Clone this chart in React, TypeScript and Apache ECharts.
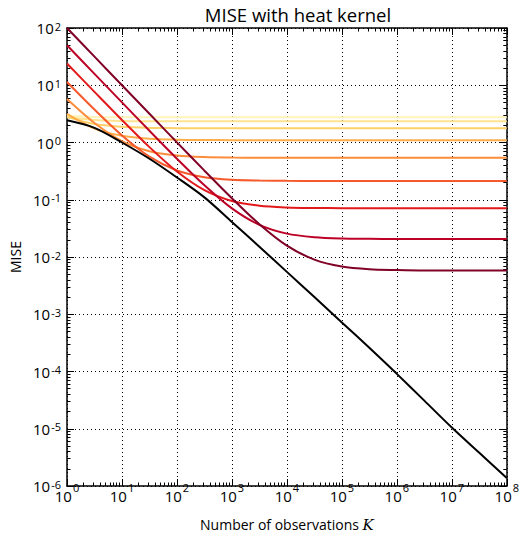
import React, { useEffect, useRef } from "react";
import * as echarts from "echarts";

// Number of observations K (half-decade steps)
const K = [1, 3.162, 10, 31.62, 100, 316.2, 1000, 3162, 1e4, 31620, 1e5, 316200, 1e6, 3162000, 1e7, 31620000, 1e8];

// MISE for fixed bandwidths (dark = smallest bandwidth)
const mise1 = [100, 31.6, 10.0, 3.17, 1.006, 0.322, 0.106, 0.0374, 0.0158, 0.009, 0.0068, 0.0061, 0.0059, 0.0058, 0.0058, 0.0058, 0.0058];
const mise2 = [50, 15.8, 5.02, 1.6, 0.521, 0.179, 0.0706, 0.0364, 0.0256, 0.0222, 0.0211, 0.0208, 0.0206, 0.0206, 0.0206, 0.0206, 0.0206];
const mise3 = [24, 7.66, 2.47, 0.83, 0.311, 0.147, 0.095, 0.0786, 0.0734, 0.0718, 0.0712, 0.071, 0.071, 0.071, 0.071, 0.071, 0.071];
const mise4 = [11.4, 3.76, 1.33, 0.567, 0.325, 0.248, 0.224, 0.217, 0.214, 0.213, 0.213, 0.213, 0.213, 0.213, 0.213, 0.213, 0.213];
const mise5 = [5.75, 2.19, 1.06, 0.705, 0.592, 0.556, 0.545, 0.542, 0.54, 0.54, 0.54, 0.54, 0.54, 0.54, 0.54, 0.54, 0.54];
const mise6 = [3.15, 1.75, 1.31, 1.165, 1.12, 1.106, 1.1, 1.1, 1.1, 1.1, 1.1, 1.1, 1.1, 1.1, 1.1, 1.1, 1.1];
const mise7 = [2.8, 2.1, 1.88, 1.8, 1.78, 1.77, 1.77, 1.77, 1.77, 1.77, 1.77, 1.77, 1.77, 1.77, 1.77, 1.77, 1.77];
const mise8 = [2.75, 2.47, 2.38, 2.35, 2.34, 2.34, 2.34, 2.34, 2.34, 2.34, 2.34, 2.34, 2.34, 2.34, 2.34, 2.34, 2.34];
const mise9 = [2.9, 2.8, 2.77, 2.76, 2.76, 2.76, 2.76, 2.76, 2.76, 2.76, 2.76, 2.76, 2.76, 2.76, 2.76, 2.76, 2.76];
// optimal bandwidth
const miseOpt = [2.44, 1.8, 1.0, 0.52, 0.245, 0.11, 0.041, 0.0151, 0.0055, 0.002, 0.00072, 0.00026, 0.000091, 0.000031, 0.0000105, 0.0000038, 0.00000138];

const curves = [mise9, mise8, mise7, mise6, mise5, mise4, mise3, mise2, mise1];
const colors = ["#fff3b8", "#fee391", "#fed06a", "#fdae4b", "#fd8d3c", "#f65a2c", "#e31a1c", "#bd0026", "#800026"];

const X_MIN = 1, X_MAX = 1e8, Y_MIN = 1e-6, Y_MAX = 1e2;

function minorTicks(lo: number, hi: number): number[] {
  const out: number[] = [];
  for (let d = Math.round(Math.log10(lo)); d < Math.round(Math.log10(hi)); d++) {
    for (let m = 2; m <= 9; m++) out.push(m * Math.pow(10, d));
  }
  return out;
}

const FONT = "Open Sans";

const supFormatter = (v: number) => {
  const e = Math.round(Math.log10(v));
  return `{b|10}{s|${e}}`;
};
const richX = {
  b: { fontSize: 15, lineHeight: 27, fontFamily: FONT, color: "#000", verticalAlign: "bottom" as const },
  s: { fontSize: 11, lineHeight: 11, fontFamily: FONT, color: "#000", verticalAlign: "top" as const, padding: [6, 0, 0, 1] },
};
const richY = {
  b: { fontSize: 15, lineHeight: 15, fontFamily: FONT, color: "#000", verticalAlign: "middle" as const, padding: [6, 0, 6, 0] },
  s: { fontSize: 11, lineHeight: 11, fontFamily: FONT, color: "#000", verticalAlign: "top" as const, padding: [0, 0, 0, 1] },
};

export default function App() {
  const ref = useRef<HTMLDivElement>(null);
  useEffect(() => {
    if (!ref.current) return;
    const chart = echarts.init(ref.current, null, { renderer: "svg" });
    const mx = minorTicks(X_MIN, X_MAX);
    const my = minorTicks(Y_MIN, Y_MAX);
    const baseLog = { type: "log" as const, logBase: 10, interval: 1 };
    const hidden = { axisLabel: { show: false }, splitLine: { show: false } };
    const xAxes = [
      {
        ...baseLog, min: X_MIN, max: X_MAX, position: "bottom",
        name: "Number of observations {it|K}", nameLocation: "middle", nameGap: 31,
        nameTextStyle: {
          fontSize: 14, fontFamily: FONT, color: "#000",
          rich: { it: { fontSize: 15, fontFamily: "DejaVu Serif", fontStyle: "italic", color: "#000" } },
        },
        axisLine: { show: true, lineStyle: { color: "#000", width: 1.5 } },
        axisTick: { show: true, inside: true, length: 7, lineStyle: { color: "#000", width: 1 } },
        axisLabel: { formatter: supFormatter, rich: richX, margin: -10, showMinLabel: true, showMaxLabel: true },
        splitLine: { show: true, lineStyle: { color: "#000", type: [1, 3], width: 1 } },
      },
      {
        ...baseLog, min: X_MIN, max: X_MAX, position: "bottom", ...hidden,
        axisLine: { show: false },
        axisTick: { show: true, inside: true, length: 3.5, customValues: mx, lineStyle: { color: "#000" } },
      },
      {
        ...baseLog, min: X_MIN, max: X_MAX, position: "top", ...hidden,
        axisLine: { show: true, lineStyle: { color: "#000", width: 1.5 } },
        axisTick: { show: true, inside: true, length: 7, lineStyle: { color: "#000" } },
      },
      {
        ...baseLog, min: X_MIN, max: X_MAX, position: "top", ...hidden,
        axisLine: { show: false },
        axisTick: { show: true, inside: true, length: 3.5, customValues: mx, lineStyle: { color: "#000" } },
      },
    ];
    const yAxes = [
      {
        ...baseLog, min: Y_MIN, max: Y_MAX, position: "left",
        name: "MISE", nameLocation: "middle", nameGap: 38, nameRotate: 90,
        nameTextStyle: { fontSize: 14, fontFamily: FONT, color: "#000" },
        axisLine: { show: true, lineStyle: { color: "#000", width: 1.5 } },
        axisTick: { show: true, inside: true, length: 7, lineStyle: { color: "#000" } },
        axisLabel: { formatter: supFormatter, rich: richY, margin: 6, showMinLabel: true, showMaxLabel: true },
        splitLine: { show: true, lineStyle: { color: "#000", type: [1, 3], width: 1 } },
      },
      {
        ...baseLog, min: Y_MIN, max: Y_MAX, position: "left", ...hidden,
        axisLine: { show: false },
        axisTick: { show: true, inside: true, length: 3.5, customValues: my, lineStyle: { color: "#000" } },
      },
      {
        ...baseLog, min: Y_MIN, max: Y_MAX, position: "right", ...hidden,
        axisLine: { show: true, lineStyle: { color: "#000", width: 1.5 } },
        axisTick: { show: true, inside: true, length: 7, lineStyle: { color: "#000" } },
      },
      {
        ...baseLog, min: Y_MIN, max: Y_MAX, position: "right", ...hidden,
        axisLine: { show: false },
        axisTick: { show: true, inside: true, length: 3.5, customValues: my, lineStyle: { color: "#000" } },
      },
    ];
    const series: any[] = curves.map((c, i) => ({
      type: "line",
      data: K.map((k, j) => [k, c[j]]),
      showSymbol: false,
      smooth: 0.3,
      xAxisIndex: 0,
      yAxisIndex: 0,
      lineStyle: { color: colors[i], width: 2 },
      itemStyle: { color: colors[i] },
      z: 3 + i,
    }));
    series.push({
      type: "line",
      data: K.map((k, j) => [k, miseOpt[j]]),
      showSymbol: false,
      smooth: 0.3,
      xAxisIndex: 0,
      yAxisIndex: 0,
      lineStyle: { color: "#000", width: 2 },
      itemStyle: { color: "#000" },
      z: 20,
    });
    chart.setOption({
      animation: false,
      backgroundColor: "#fff",
      title: {
        text: "MISE with heat kernel",
        left: 293, top: 0, textAlign: "center",
        textStyle: { fontSize: 18.5, fontWeight: "normal", fontFamily: FONT, color: "#000" },
      },
      grid: { left: 67, top: 28, width: 446, height: 460, containLabel: false },
      xAxis: xAxes,
      yAxis: yAxes,
      series,
    } as any);
    return () => chart.dispose();
  }, []);
  return (
    <div
      ref={ref}
      style={{ position: "absolute", left: 0, top: 0, width: 522, height: 537 }}
    />
  );
}
